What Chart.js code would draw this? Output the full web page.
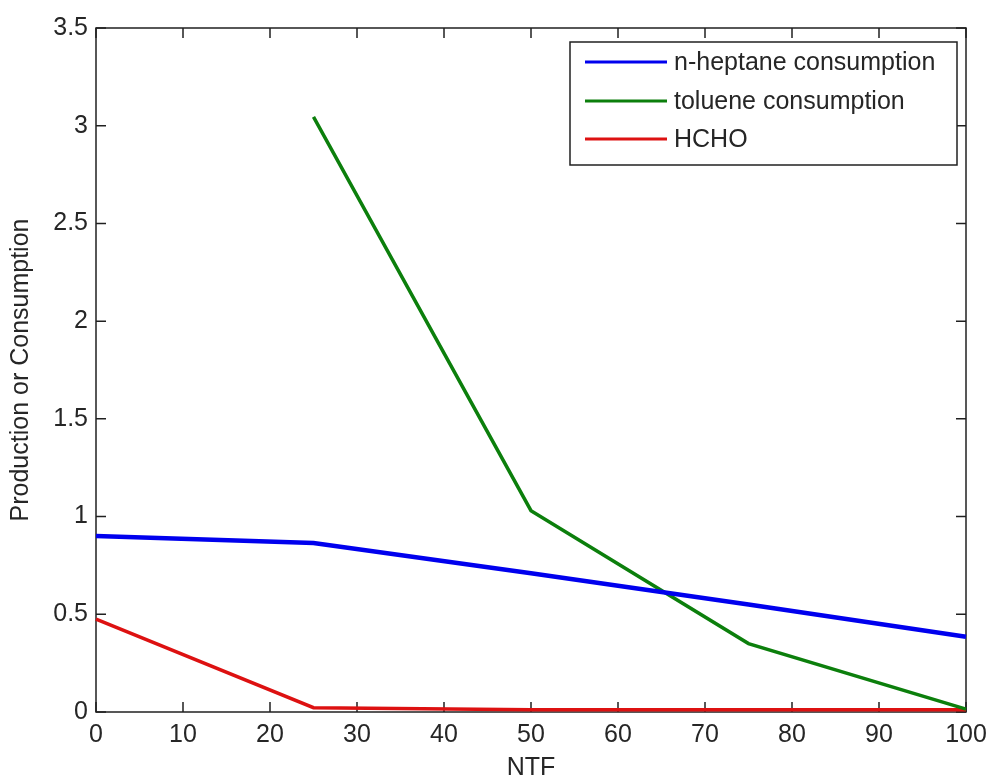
<!DOCTYPE html>
<html>
<head>
<meta charset="utf-8">
<script src="https://cdn.jsdelivr.net/npm/chart.js@4.4.1/dist/chart.umd.min.js"></script>
<style>
  html, body { margin: 0; padding: 0; background: #ffffff; }
  #wrap { width: 990px; height: 778px; }
</style>
</head>
<body>
<div id="wrap"><canvas id="c" width="990" height="778"></canvas></div>
<script>
// ---- data ----
const ntf = [0, 25, 50, 75, 100];
const heptane = [0.90, 0.865, 0.71, 0.55, 0.385];
const toluene = [null, 3.045, 1.03, 0.35, 0.015];
const hcho = [0.475, 0.022, 0.012, 0.012, 0.012];
const seriesLabels = ['n-heptane consumption', 'toluene consumption', 'HCHO'];
const xTicks = [0, 10, 20, 30, 40, 50, 60, 70, 80, 90, 100];
const yTicks = [0, 0.5, 1, 1.5, 2, 2.5, 3, 3.5];

const FONT = '"Liberation Sans", Arial, sans-serif';
const TXT = '#262626';

function pts(ys) { return ntf.map((x, i) => ({ x: x, y: ys[i] })); }

const boxPlugin = {
  id: 'boxPlugin',
  beforeDatasetsDraw(chart) {
    const { ctx, chartArea: a, scales } = chart;
    ctx.save();
    ctx.strokeStyle = '#202020';
    ctx.lineWidth = 1.5;
    ctx.strokeRect(a.left, a.top, a.right - a.left, a.bottom - a.top);
    const tl = 10;
    ctx.beginPath();
    scales.x.ticks.forEach(t => {
      const px = scales.x.getPixelForValue(t.value);
      ctx.moveTo(px, a.bottom); ctx.lineTo(px, a.bottom - tl);
      ctx.moveTo(px, a.top); ctx.lineTo(px, a.top + tl);
    });
    scales.y.ticks.forEach(t => {
      const py = scales.y.getPixelForValue(t.value);
      ctx.moveTo(a.left, py); ctx.lineTo(a.left + tl, py);
      ctx.moveTo(a.right, py); ctx.lineTo(a.right - tl, py);
    });
    ctx.stroke();
    ctx.restore();
  },
  afterDraw(chart) {
    const { ctx } = chart;
    const bx = 570, by = 42, bw = 387, bh = 123;
    ctx.save();
    ctx.fillStyle = '#ffffff';
    ctx.fillRect(bx, by, bw, bh);
    ctx.strokeStyle = '#202020';
    ctx.lineWidth = 1.5;
    ctx.strokeRect(bx, by, bw, bh);
    const rows = [62, 101, 139];
    chart.data.datasets.forEach((ds, i) => {
      ctx.strokeStyle = ds.borderColor;
      ctx.lineWidth = 3;
      ctx.beginPath();
      ctx.moveTo(585, rows[i]); ctx.lineTo(667, rows[i]);
      ctx.stroke();
      ctx.fillStyle = TXT;
      ctx.font = '25px ' + FONT;
      ctx.textBaseline = 'middle';
      ctx.textAlign = 'left';
      ctx.fillText(ds.label, 674, rows[i] + 1);
    });
    ctx.restore();
  }
};

new Chart(document.getElementById('c'), {
  type: 'line',
  data: {
    datasets: [
      { label: seriesLabels[0], data: pts(heptane), borderColor: '#0000ee', borderWidth: 4.5, pointRadius: 0, clip: false, tension: 0 },
      { label: seriesLabels[1], data: pts(toluene), borderColor: '#0c7f0c', borderWidth: 3.5, pointRadius: 0, clip: false, tension: 0, spanGaps: false },
      { label: seriesLabels[2], data: pts(hcho), borderColor: '#dd1111', borderWidth: 3.5, pointRadius: 0, clip: false, tension: 0 }
    ]
  },
  options: {
    responsive: false,
    animation: false,
    devicePixelRatio: 1,
    layout: { padding: { top: 28, right: 24, left: 0, bottom: 0 } },
    plugins: { legend: { display: false }, tooltip: { enabled: false } },
    scales: {
      x: {
        type: 'linear', min: 0, max: 100,
        afterFit(s) { s.height = 66; s.paddingLeft = 0; s.paddingRight = 0; },
        afterBuildTicks(s) { s.ticks = xTicks.map(v => ({ value: v })); },
        grid: { display: false, drawTicks: false },
        border: { display: false },
        ticks: { padding: 8, color: TXT, font: { family: FONT, size: 25 }, callback: v => String(v), maxRotation: 0, autoSkip: false },
        title: { display: true, text: 'NTF', color: TXT, font: { family: FONT, size: 25 }, padding: { top: 0, bottom: -5 } }
      },
      y: {
        type: 'linear', min: 0, max: 3.5,
        afterFit(s) { s.width = 96; s.paddingTop = 0; s.paddingBottom = 0; },
        afterBuildTicks(s) { s.ticks = yTicks.map(v => ({ value: v })); },
        grid: { display: false, drawTicks: false },
        border: { display: false },
        ticks: { padding: 8, color: TXT, font: { family: FONT, size: 25 }, callback: v => String(v), autoSkip: false },
        title: { display: true, text: 'Production or Consumption', color: TXT, font: { family: FONT, size: 25 }, padding: { top: 6, bottom: 0 } }
      }
    }
  },
  plugins: [boxPlugin]
});
</script>
</body>
</html>
